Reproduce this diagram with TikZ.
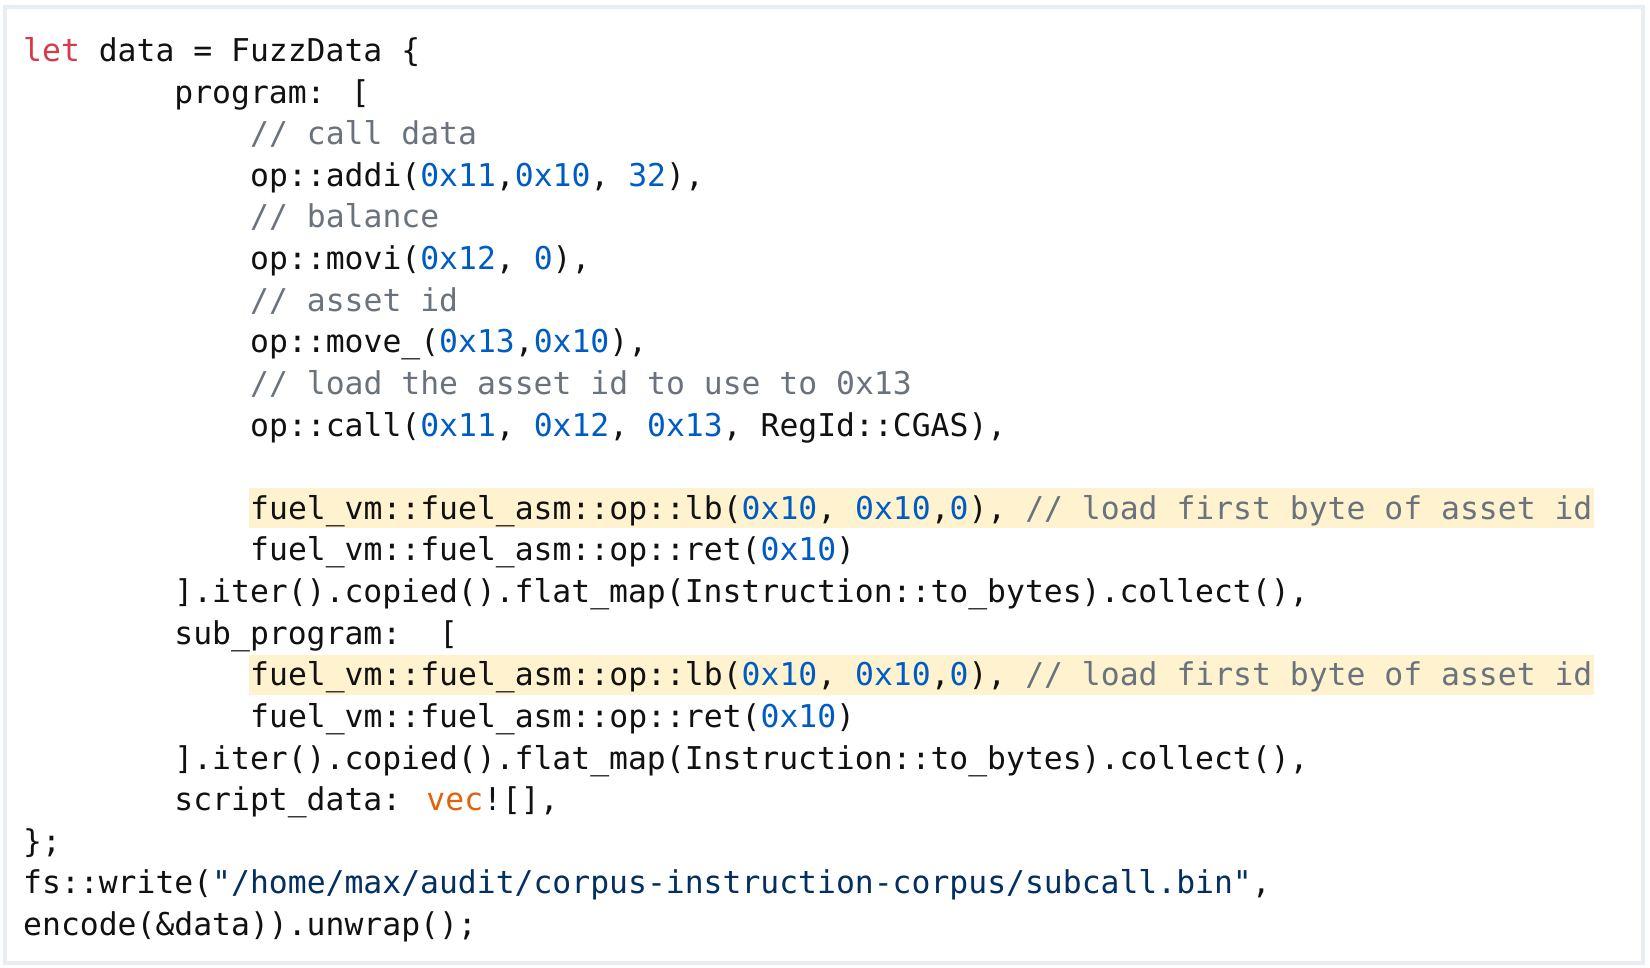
\documentclass[tikz,border=0pt]{standalone}
\usepackage{fontspec}
\usepackage{tikz}
\newfontfamily\codefont{DejaVu Sans Mono}
\definecolor{codeblack}{HTML}{111111}
\definecolor{kwred}{HTML}{D73A49}
\definecolor{numblue}{HTML}{005CC5}
\definecolor{cmtgrey}{HTML}{6A737D}
\definecolor{macorange}{HTML}{E36209}
\definecolor{strblue}{HTML}{032F62}
\definecolor{hlyellow}{HTML}{FFF2CF}
\definecolor{framegrey}{HTML}{E7EDF4}
\newcommand{\ckw}[1]{\textcolor{kwred}{#1}}
\newcommand{\cnum}[1]{\textcolor{numblue}{#1}}
\newcommand{\ccmt}[1]{\textcolor{cmtgrey}{#1}}
\newcommand{\cmac}[1]{\textcolor{macorange}{#1}}
\newcommand{\cstr}[1]{\textcolor{strblue}{#1}}
\tikzset{
    codeline/.style={anchor=base west, inner sep=0pt, text=codeblack,
        font=\codefont\fontsize{31.4}{40}\selectfont},
    hilite/.style={fill=hlyellow},
    frame/.style={draw=framegrey, line width=3.5pt}
}
\begin{document}
\begin{tikzpicture}[x=1pt,y=-1pt]
        \useasboundingbox (0,0) rectangle (1650,968);
        \fill[white] (0,0) rectangle (1650,968);
        \draw[frame] (5,7) rectangle (1643,963);
        \fill[hilite] (249,488.3) rectangle (1594,528.3);
        \fill[hilite] (249,654.8) rectangle (1594,694.8);
        \node[codeline] (l0) at (23,61.5) {\ckw{let} data = FuzzData \{};
        \node[codeline] (l1) at (174.2,103.1) {program: [};
        \node[codeline] (l2) at (250,144.7) {\ccmt{// call data}};
        \node[codeline] (l3) at (250,186.4) {op::addi(\cnum{0x11},\cnum{0x10}, \cnum{32}),};
        \node[codeline] (l4) at (250,228.0) {\ccmt{// balance}};
        \node[codeline] (l5) at (250,269.6) {op::movi(\cnum{0x12}, \cnum{0}),};
        \node[codeline] (l6) at (250,311.2) {\ccmt{// asset id}};
        \node[codeline] (l7) at (250,352.8) {op::move\_(\cnum{0x13},\cnum{0x10}),};
        \node[codeline] (l8) at (250,394.5) {\ccmt{// load the asset id to use to 0x13}};
        \node[codeline] (l9) at (250,436.1) {op::call(\cnum{0x11}, \cnum{0x12}, \cnum{0x13}, RegId::CGAS),};
        \node[codeline] (l11) at (250,519.3) {fuel\_vm::fuel\_asm::op::lb(\cnum{0x10}, \cnum{0x10},\cnum{0}), \ccmt{// load first byte of asset id}};
        \node[codeline] (l12) at (250,560.9) {fuel\_vm::fuel\_asm::op::ret(\cnum{0x10})};
        \node[codeline] (l13) at (174.2,602.6) {].iter().copied().flat\_map(Instruction::to\_bytes).collect(),};
        \node[codeline] (l14) at (174.2,644.2) {sub\_program:\ \ [};
        \node[codeline] (l15) at (250,685.8) {fuel\_vm::fuel\_asm::op::lb(\cnum{0x10}, \cnum{0x10},\cnum{0}), \ccmt{// load first byte of asset id}};
        \node[codeline] (l16) at (250,727.4) {fuel\_vm::fuel\_asm::op::ret(\cnum{0x10})};
        \node[codeline] (l17) at (174.2,769.0) {].iter().copied().flat\_map(Instruction::to\_bytes).collect(),};
        \node[codeline] (l18) at (174.2,810.7) {script\_data: \cmac{vec}![],};
        \node[codeline] (l19) at (23,852.3) {\};};
        \node[codeline] (l20) at (23,893.9) {fs::write(\cstr{"/home/max/audit/corpus-instruction-corpus/subcall.bin"},};
        \node[codeline] (l21) at (23,935.5) {encode(\&data)).unwrap();};
    \end{tikzpicture}
\end{document}
